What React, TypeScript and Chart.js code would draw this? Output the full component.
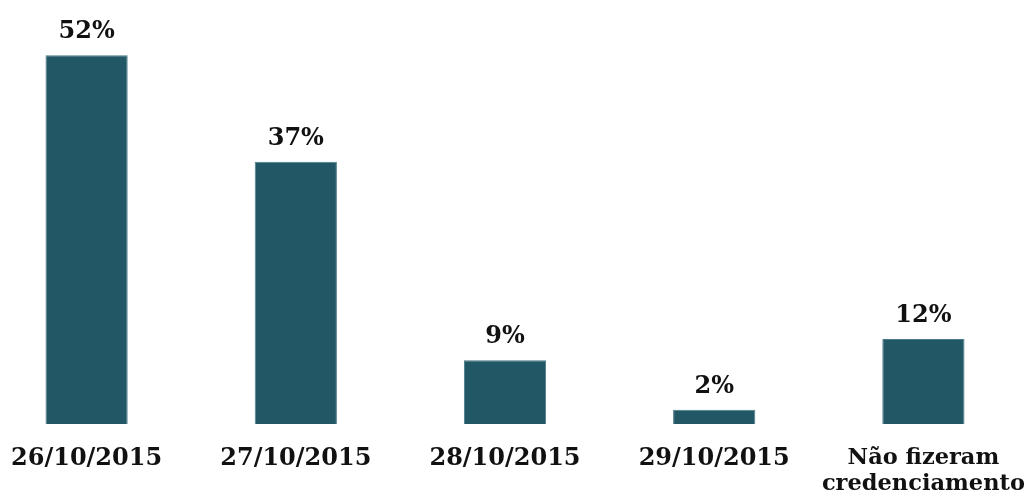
import React, { useEffect, useRef } from "react";
import { Chart, registerables } from "chart.js";

Chart.register(...registerables);

const categories: (string | string[])[] = [
  "26/10/2015",
  "27/10/2015",
  "28/10/2015",
  "29/10/2015",
  ["Não fizeram", "credenciamento"],
];
const values: number[] = [52, 37, 9, 2, 12];
const valueLabels: string[] = ["52%", "37%", "9%", "2%", "12%"];

const FONT = "'DejaVu Serif', serif";

const labelPlugin = {
  id: "valueLabels",
  afterDatasetsDraw(chart: any) {
    const ctx = chart.ctx;
    const meta = chart.getDatasetMeta(0);
    ctx.save();
    ctx.font = `bold 24px ${FONT}`;
    ctx.fillStyle = "#111111";
    ctx.textAlign = "center";
    ctx.textBaseline = "alphabetic";
    meta.data.forEach((bar: any, i: number) => {
      ctx.fillText(valueLabels[i], bar.x, bar.y - 17);
    });
    ctx.restore();
  },
};

export default function App() {
  const ref = useRef<HTMLCanvasElement | null>(null);
  useEffect(() => {
    if (!ref.current) return;
    const chart = new Chart(ref.current, {
      type: "bar",
      data: {
        labels: categories,
        datasets: [
          {
            data: values,
            backgroundColor: "#225866",
            borderColor: "#4a7b87",
            borderWidth: 1,
            barPercentage: 0.393,
            categoryPercentage: 1,
          },
        ],
      },
      options: {
        animation: false,
        responsive: false,
        maintainAspectRatio: false,
        devicePixelRatio: 1,
        layout: { padding: 0 },
        plugins: { legend: { display: false }, tooltip: { enabled: false } },
        scales: {
          x: {
            grid: { display: false, drawTicks: false },
            border: { display: false },
            ticks: {
              color: "#111111",
              font: (c: any) =>
                c.index === 4
                  ? { family: FONT, size: 22.5, weight: "bold", lineHeight: 1.12 }
                  : { family: FONT, size: 24, weight: "bold", lineHeight: 1.1 },
              padding: 22,
              maxRotation: 0,
              autoSkip: false,
            },
            afterFit: (scale: any) => {
              scale.height = 74;
              scale.paddingLeft = 0;
              scale.paddingRight = 0;
            },
          },
          y: {
            display: false,
            min: 0,
            max: 59.8,
          },
        },
      },
      plugins: [labelPlugin],
    });
    return () => chart.destroy();
  }, []);
  return (
    <div
      style={{
        position: "fixed",
        left: 0,
        top: 0,
        width: 1024,
        height: 498,
        overflow: "hidden",
        background: "#ffffff",
      }}
    >
      <canvas
        ref={ref}
        width={1046}
        height={498}
        style={{ position: "absolute", left: -18, top: 0, width: 1046, height: 498 }}
      />
    </div>
  );
}
